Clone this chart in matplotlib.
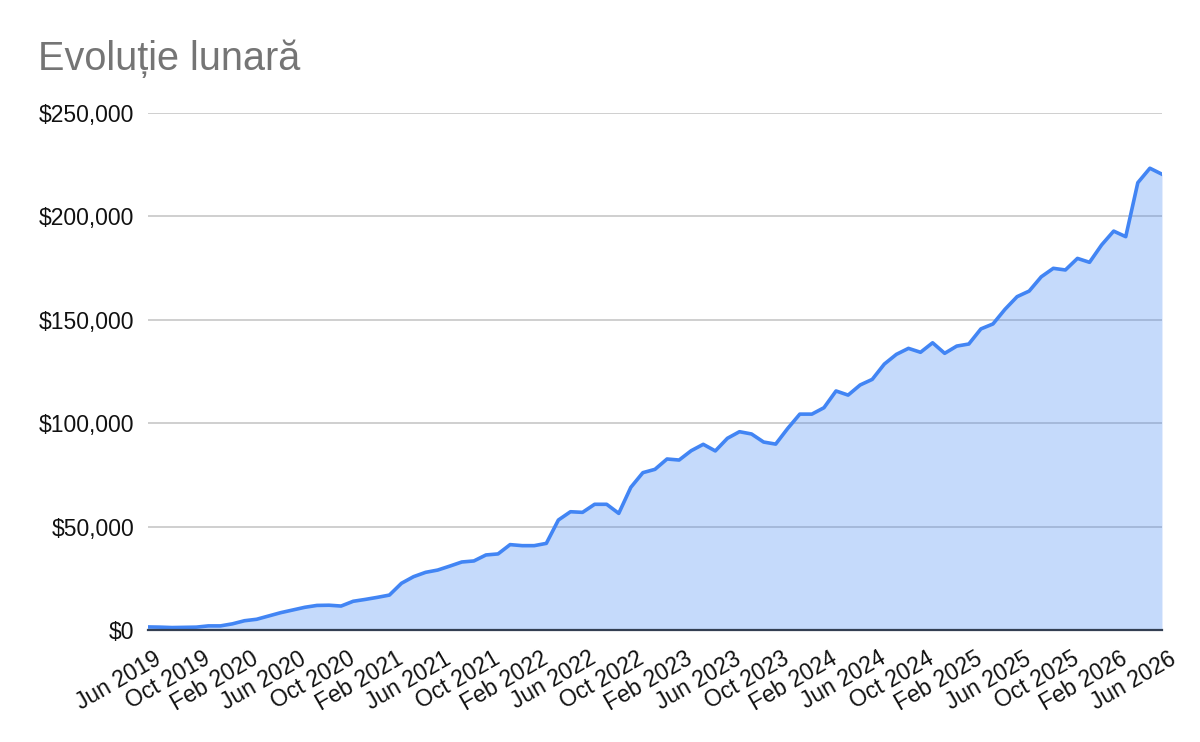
import numpy as np
import pandas as pd
import matplotlib
matplotlib.use('Agg')
import matplotlib.pyplot as plt
import matplotlib.transforms as mtransforms
from matplotlib.ticker import FuncFormatter

plt.rcParams['font.family'] = ['Liberation Sans', 'DejaVu Sans']

# luni: Jun 2019 .. Jun 2026
months = pd.date_range('2019-06-01', '2026-06-01', freq='MS')
month_labels = [d.strftime('%b %Y') for d in months]

# valori lunare
values = [
    1500, 1400, 1200, 1300, 1400, 2000, 2000, 3000, 4500, 5200,
    6800, 8400, 9700, 11000, 11900, 12000, 11600, 13900, 14800, 15800,
    16900, 22600, 25800, 27900, 29000, 30900, 32900, 33400, 36300, 36800,
    41300, 40800, 40800, 41900, 53200, 57200, 56900, 60800, 60800, 56400,
    69000, 76100, 77700, 82700, 82200, 86700, 89800, 86600, 92700, 95900,
    94800, 90900, 89900, 97500, 104400, 104400, 107500, 115600, 113600, 118500,
    121200, 128600, 133300, 136200, 134300, 138900, 133800, 137300, 138300, 145600,
    148000, 155100, 161200, 163900, 170800, 174900, 174100, 179700, 177800, 186200,
    192900, 190200, 216300, 223300, 220400,
]

x = np.arange(len(values))

fig = plt.figure(figsize=(12, 7.42), dpi=100)
ax = fig.add_axes([0.1233, 0.1509, 0.845, 0.6968])

ax.fill_between(x, values, 0, color='#4285F4', alpha=0.3, linewidth=0, zorder=2)
ax.plot(x, values, color='#4285F4', lw=2.6, zorder=3, solid_joinstyle='round')

ax.set_xlim(0, len(values) - 1)
ax.set_ylim(0, 250000)
ax.set_yticks(np.arange(0, 250001, 50000))
ax.yaxis.set_major_formatter(FuncFormatter(lambda v, p: f'${v:,.0f}'))
ax.grid(axis='y', color='#cccccc', lw=1.3, zorder=1)
ax.set_axisbelow(True)

tick_pos = x[::4]
ax.set_xticks(tick_pos)
ax.set_xticklabels([month_labels[i] for i in tick_pos], rotation=30,
                   ha='right', va='top', rotation_mode='anchor')

ax.tick_params(axis='both', length=0, labelsize=16.5, colors='#111111')
ax.tick_params(axis='y', pad=10)
ax.tick_params(axis='x', pad=10)

# mutare usoara a etichetelor de pe axa x
offset = mtransforms.ScaledTranslation(6 / 100, -3 / 100, fig.dpi_scale_trans)
for lbl in ax.get_xticklabels():
    lbl.set_transform(lbl.get_transform() + offset)

for s in ['top', 'right', 'left']:
    ax.spines[s].set_visible(False)
ax.spines['bottom'].set_color('#333f52')
ax.spines['bottom'].set_linewidth(1.6)
ax.spines['bottom'].set_zorder(4)

fig.text(0.032, 0.906, 'Evoluție lunară', fontsize=28.5, color='#757575',
         ha='left', va='baseline')

fig.savefig('out.png', dpi=100)
